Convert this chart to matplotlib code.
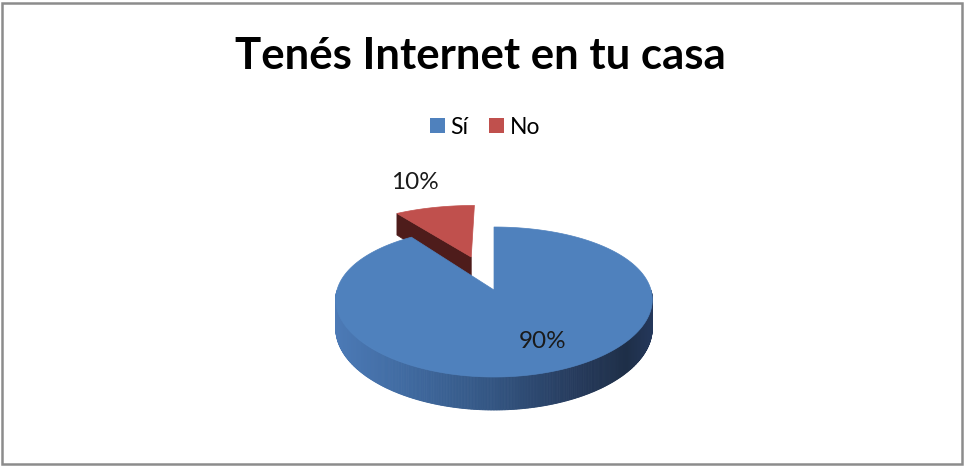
import numpy as np
import matplotlib
matplotlib.use("Agg")
import matplotlib.pyplot as plt
from matplotlib.patches import Polygon, Patch, Rectangle
from matplotlib.colors import LinearSegmentedColormap

# ---------------- data ----------------
title = "Tenés Internet en tu casa"
categories = ["Sí", "No"]
values = [90, 10]
top_colors = ["#4F81BD", "#C0504D"]
explode = [0.0, 0.5]

FONT = ["Lato", "DejaVu Sans"]

W, H = 964, 466
fig = plt.figure(figsize=(W / 100, H / 100), dpi=100)

# helper pie: lets matplotlib compute wedge angles / centers / label spots
hax = fig.add_axes([0, 0, 0.1, 0.1])
wedges, _, autotexts = hax.pie(values, explode=explode, startangle=90,
                               counterclock=False, autopct='%1.0f%%',
                               pctdistance=0.69)
geo = [(w.theta1, w.theta2, np.array(w.center), w.r) for w in wedges]
lab_pos = [np.array(t.get_position()) for t in autotexts]
lab_txt = [t.get_text() for t in autotexts]
fig.delaxes(hax)

ax = fig.add_axes([0, 0, 1, 1])
ax.set_xlim(0, W)
ax.set_ylim(H, 0)
ax.axis('off')

# ---------------- 3D projection (pie plane -> screen) ----------------
CX, CY = 494.0, 290.0
RX = 157.0
A, B = 75.0, 12.0


def proj(u, v):
    u = np.asarray(u, float)
    v = np.asarray(v, float)
    x = CX + RX * u * (1 - 0.13 * v)
    y = CY - A * v + B * v ** 2
    return x, y


def depth(v):
    return 28.0 - 5.0 * np.asarray(v, float)


side_cmap = LinearSegmentedColormap.from_list(
    "side", [(0.0, "#4C7AB6"), (0.2, "#416CA3"), (0.5, "#335582"),
             (0.78, "#25395A"), (0.92, "#1E2F48"), (1.0, "#24375A")])
dark_red = "#4E1C1B"

# draw order: far wedge (No) first, then Sí
order = [1, 0]
for i in order:
    t1, t2, c, r = geo[i]
    mid = np.deg2rad((t1 + t2) / 2)
    # radial faces that face the viewer
    for ang in (t1, t2):
        a = np.deg2rad(ang)
        rim = c + r * np.array([np.cos(a), np.sin(a)])
        n = np.array([np.cos(a + np.pi / 2), np.sin(a + np.pi / 2)])
        if np.dot(n, [np.cos(mid), np.sin(mid)]) > 0:
            n = -n
        if n[1] < -0.2:
            xs0, ys0 = proj([c[0], rim[0]], [c[1], rim[1]])
            d = depth([c[1], rim[1]])
            poly = np.column_stack([np.r_[xs0, xs0[::-1]],
                                    np.r_[ys0, (ys0 + d)[::-1]]])
            ax.add_patch(Polygon(poly, closed=True, facecolor=dark_red,
                                 edgecolor=dark_red, lw=0.5))
    # outer curved wall (front half only)
    ts = np.linspace(t1, t2, int(abs(t2 - t1) * 2) + 2)
    ts_mod = np.mod(ts, 360)
    vis = (ts_mod >= 180) & (ts_mod <= 360)
    if vis.any():
        tv = np.deg2rad(ts[vis])
        u = c[0] + r * np.cos(tv)
        v = c[1] + r * np.sin(tv)
        xs, ys = proj(u, v)
        d = depth(v)
        xmin, xmax = xs.min(), xs.max()
        for k in range(len(tv) - 1):
            col = side_cmap((0.5 * (xs[k] + xs[k + 1]) - xmin) / (xmax - xmin))
            quad = [(xs[k], ys[k]), (xs[k + 1], ys[k + 1]),
                    (xs[k + 1], ys[k + 1] + d[k + 1]), (xs[k], ys[k] + d[k])]
            ax.add_patch(Polygon(quad, closed=True, facecolor=col,
                                 edgecolor=col, lw=0.6))
    # top surface
    tt = np.deg2rad(np.linspace(t1, t2, 200))
    u = np.r_[c[0], c[0] + r * np.cos(tt)]
    v = np.r_[c[1], c[1] + r * np.sin(tt)]
    xs, ys = proj(u, v)
    ax.add_patch(Polygon(np.column_stack([xs, ys]), closed=True,
                         facecolor=top_colors[i], edgecolor=top_colors[i],
                         lw=0.5))

# ---------------- labels ----------------
lx, ly = proj(lab_pos[0][0] + 0.07, lab_pos[0][1] + 0.03)
ax.text(float(lx), float(ly), lab_txt[0], ha='center', va='center',
        fontsize=17.5, family=FONT, color='#1a1a1a')
t1, t2, c, r = geo[1]
mid = np.deg2rad((t1 + t2) / 2)
rx_, ry_ = proj(c[0] + r * np.cos(mid), c[1] + r * np.sin(mid))
ax.annotate(lab_txt[1], (float(rx_), float(ry_)), xytext=(-14, 18),
            textcoords='offset points', ha='center', va='center',
            fontsize=17.5, family=FONT, color='#1a1a1a')

# ---------------- title & legend ----------------
fig.text(480 / W, 1 - 56 / H, title, ha='center', va='center',
         fontsize=31.5, fontweight='bold', family=FONT, color='black')

handles = [Patch(facecolor=top_colors[k], edgecolor='none')
           for k in range(len(categories))]
fig.legend(handles, categories, loc='center',
           bbox_to_anchor=(485 / W, 1 - 127 / H),
           ncol=2, frameon=False, prop={'family': FONT, 'size': 16.5},
           handlelength=0.65, handleheight=0.65, handletextpad=0.25,
           columnspacing=0.9, borderaxespad=0)

# ---------------- chart border ----------------
ax.add_patch(Rectangle((1.5, 2.5), W - 4, H - 5, fill=False,
                       edgecolor='#8C8C8C', lw=1.8))

fig.savefig("out.png", dpi=100)
